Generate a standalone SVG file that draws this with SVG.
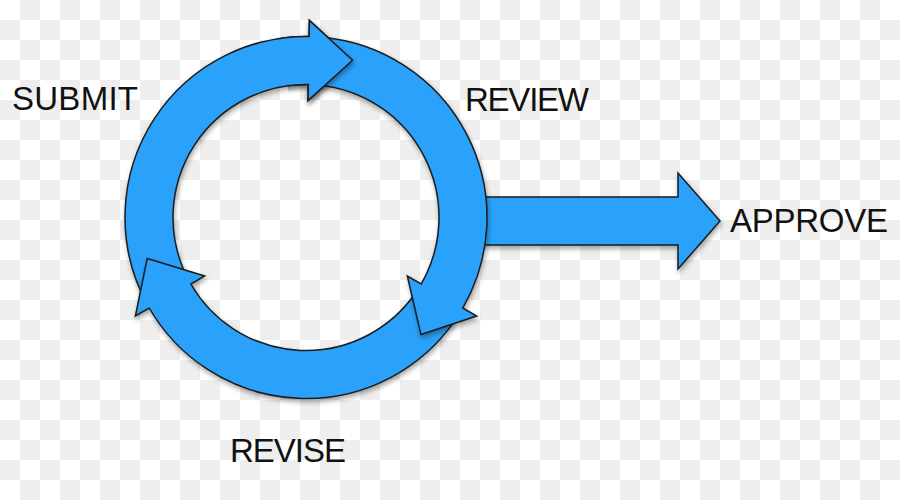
<svg xmlns="http://www.w3.org/2000/svg" xmlns:xlink="http://www.w3.org/1999/xlink" width="900" height="500" viewBox="0 0 900 500">
<style>
.arrow{fill:#2AA2FB;stroke:#1b1b1b;stroke-width:1.5;stroke-linejoin:miter;filter:url(#shadow)}
.lbl{font-family:"Liberation Sans",Arial,Helvetica,sans-serif;font-size:33px;fill:#111}
</style>
<defs>
<pattern id="checker" width="40" height="40" patternUnits="userSpaceOnUse">
<rect width="40" height="40" fill="#ffffff"/>
<rect x="20" y="0" width="20" height="20" fill="#eeeeee"/>
<rect x="0" y="20" width="20" height="20" fill="#eeeeee"/>
</pattern>
<filter id="shadow" x="-15%" y="-15%" width="130%" height="135%">
<feDropShadow dx="1" dy="3" stdDeviation="2.5" flood-color="#000" flood-opacity="0.35"/>
</filter>
<clipPath id="headClip">
<polygon points="306,217.5 269.8,-40 440,-40 440,-7.7"/>
</clipPath>
</defs>
<rect width="900" height="500" fill="url(#checker)"/>
<g id="connectors">
<path id="approveArrow" class="arrow" d="M460,197 L678,197 L678,173 L720,221 L678,269 L678,245 L460,245 Z"/>
<path id="a1" class="arrow" d="M141.96,293.99 A181,181 0 0 1 309.16,36.53 L309.44,20.53 L352.58,60.25 L308.04,100.52 L308.32,84.52 A133,133 0 0 0 185.46,273.71 Z"/>
<path id="a3" class="arrow" d="M454.27,321.32 A181,181 0 0 1 149.25,308.0 L135.39,316.0 L147.22,258.56 L204.67,276.0 L190.82,284.0 A133,133 0 0 0 414.95,293.79 Z"/>
<path id="a2" class="arrow" d="M324.92,37.49 A181,181 0 0 1 462.75,308.0 L476.61,316.0 L420.95,334.47 L407.33,276.0 L421.18,284.0 A133,133 0 0 0 319.90,85.23 Z"/>
<g clip-path="url(#headClip)"><use xlink:href="#a1" href="#a1"/></g>
</g>
<g id="submit"><text class="lbl" x="12" y="110" textLength="126">SUBMIT</text></g>
<g id="review"><text class="lbl" x="465" y="111" textLength="124">REVIEW</text></g>
<g id="approve"><text class="lbl" x="730" y="232" textLength="158">APPROVE</text></g>
<g id="revise"><text class="lbl" x="230" y="462" textLength="116">REVISE</text></g>
</svg>
